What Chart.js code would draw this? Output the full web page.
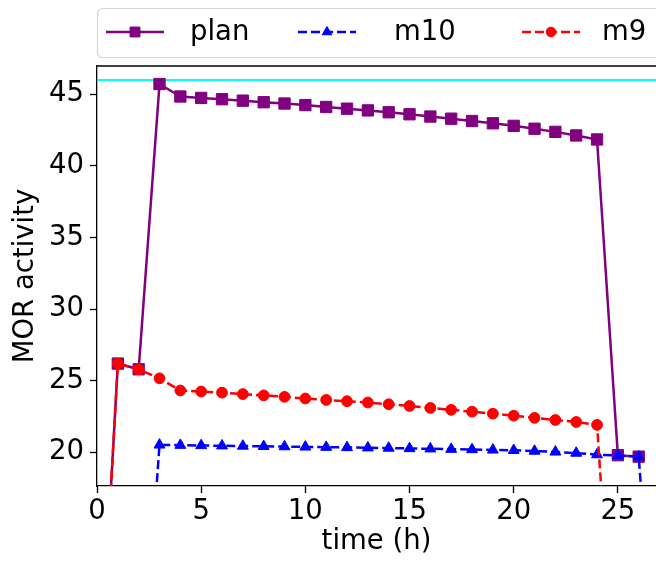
<!DOCTYPE html>
<html>
<head>
<meta charset="utf-8">
<script src="https://cdn.jsdelivr.net/npm/chart.js@4"></script>
<style>
  html, body { margin: 0; padding: 0; background: #fff; overflow: hidden; }
</style>
</head>
<body>
<canvas id="chart" width="656" height="561"></canvas>
<script>
// hours on the x axis
var hours = [0, 1, 2, 3, 4, 5, 6, 7, 8, 9, 10, 11, 12, 13, 14, 15, 16, 17, 18, 19, 20, 21, 22, 23, 24, 25, 26, 27];

var plan = [0, 26.2, 25.8, 45.72, 44.85, 44.75, 44.66, 44.56, 44.45, 44.36, 44.25, 44.12, 44.0, 43.88,
  43.75, 43.61, 43.45, 43.3, 43.14, 42.98, 42.8, 42.6, 42.38, 42.13, 41.85, 19.8, 19.7];
var m10 = [0, 0, 0, 20.52, 20.5, 20.48, 20.46, 20.44, 20.42, 20.4, 20.38, 20.36, 20.34, 20.32,
  20.3, 20.27, 20.25, 20.22, 20.2, 20.17, 20.14, 20.09, 20.03, 19.95, 19.84, 19.78, 19.7, 0];
var m9 = [0, 26.2, 25.8, 25.17, 24.32, 24.25, 24.17, 24.07, 23.98, 23.88, 23.76, 23.66, 23.57, 23.48,
  23.36, 23.24, 23.1, 22.97, 22.84, 22.7, 22.56, 22.41, 22.26, 22.12, 21.92, 0];

var limit = 46;
var xRange = [0, 26.83];
var yRange = [17.65, 46.98];
var xTicks = [0, 5, 10, 15, 20, 25];
var yTicks = [20, 25, 30, 35, 40, 45];

function pts(vals) {
  return vals.map(function (v, i) { return { x: hours[i], y: v }; });
}

var FONT = '"DejaVu Sans", sans-serif';
Chart.defaults.font.family = FONT;
Chart.defaults.font.size = 27.5;
Chart.defaults.color = '#000';

var legendItems = [
  { label: 'plan', color: 'purple', dash: [], marker: 'rect', x: 106, tx: 190 },
  { label: 'm10', color: 'blue', dash: [9, 4], marker: 'triangle', x: 298, tx: 394 },
  { label: 'm9', color: 'red', dash: [9, 4], marker: 'circle', x: 522, tx: 602 }
];

function marker(ctx, type, x, y) {
  Chart.helpers.drawPoint(ctx, {
    pointStyle: type,
    radius: type === 'rect' ? 7 : (type === 'triangle' ? 5.5 : 4.8),
    borderWidth: 1
  }, x, y);
}

var frame = {
  id: 'frame',
  afterDraw: function (chart) {
    var ctx = chart.ctx, a = chart.chartArea;
    ctx.save();
    // top spine
    ctx.strokeStyle = '#000';
    ctx.lineWidth = 1.3;
    ctx.beginPath();
    ctx.moveTo(a.left, a.top);
    ctx.lineTo(a.right + 2, a.top);
    ctx.stroke();

    // legend box
    ctx.strokeStyle = '#d6d6d6';
    ctx.fillStyle = 'rgba(255,255,255,0.8)';
    ctx.lineWidth = 1.2;
    ctx.beginPath();
    ctx.roundRect(97.5, 8.5, 620, 49, 5);
    ctx.fill();
    ctx.stroke();

    var y = 32;
    legendItems.forEach(function (it) {
      var x0 = it.x;
      ctx.strokeStyle = it.color;
      ctx.lineWidth = 2.5;
      ctx.setLineDash(it.dash);
      ctx.beginPath();
      ctx.moveTo(x0, y);
      ctx.lineTo(x0 + 58, y);
      ctx.stroke();
      ctx.setLineDash([]);
      ctx.fillStyle = it.color;
      ctx.strokeStyle = it.color;
      ctx.lineWidth = 1;
      marker(ctx, it.marker, x0 + 29, y);
      ctx.fillStyle = '#000';
      ctx.font = '27.5px ' + FONT;
      ctx.textBaseline = 'middle';
      ctx.textAlign = 'left';
      ctx.fillText(it.label, it.tx, y + 1);
    });
    ctx.restore();
  }
};

function keepTicks(list) {
  return function (scale) {
    scale.ticks = list.map(function (v) { return { value: v }; });
  };
}

new Chart(document.getElementById('chart'), {
  type: 'line',
  data: {
    datasets: [
      {
        label: 'limit',
        data: [{ x: xRange[0], y: limit }, { x: xRange[1] + 1, y: limit }],
        borderColor: '#00ffff',
        borderWidth: 2,
        pointRadius: 0,
        order: 4
      },
      {
        label: 'plan',
        data: pts(plan),
        borderColor: 'purple',
        backgroundColor: 'purple',
        borderWidth: 2.5,
        pointStyle: 'rect',
        pointRadius: 8,
        pointBorderWidth: 1,
        order: 3
      },
      {
        label: 'm10',
        data: pts(m10),
        borderColor: 'blue',
        backgroundColor: 'blue',
        borderWidth: 2.5,
        borderDash: [9, 4],
        pointStyle: 'triangle',
        pointRadius: 6.3,
        pointBorderWidth: 1,
        order: 2
      },
      {
        label: 'm9',
        data: pts(m9),
        borderColor: 'red',
        backgroundColor: 'red',
        borderWidth: 2.5,
        borderDash: [9, 4],
        pointStyle: 'circle',
        pointRadius: 5.4,
        pointBorderWidth: 1,
        order: 1
      }
    ]
  },
  options: {
    responsive: false,
    animation: false,
    layout: { autoPadding: false, padding: { top: 66, right: 0, left: 0, bottom: 0 } },
    plugins: {
      legend: { display: false },
      tooltip: { enabled: false }
    },
    scales: {
      x: {
        type: 'linear',
        min: xRange[0],
        max: xRange[1],
        afterBuildTicks: keepTicks(xTicks),
        afterFit: function (s) { s.height = 75; s.paddingLeft = 0; s.paddingRight = 0; },
        ticks: { padding: 2, maxRotation: 0, autoSkip: false, font: { size: 27.5 } },
        grid: { drawOnChartArea: false, tickLength: 7, tickColor: '#000', tickWidth: 1.3 },
        border: { color: '#000', width: 1.3 },
        title: { display: true, text: 'time (h)', font: { size: 27.5 }, padding: { top: 0, bottom: 3 } }
      },
      y: {
        min: yRange[0],
        max: yRange[1],
        afterBuildTicks: keepTicks(yTicks),
        afterFit: function (s) { s.width = 97; s.paddingTop = 0; s.paddingBottom = 0; },
        ticks: { padding: 6, autoSkip: false, font: { size: 27.5 } },
        grid: { drawOnChartArea: false, tickLength: 7, tickColor: '#000', tickWidth: 1.3 },
        border: { color: '#000', width: 1.3 },
        title: { display: true, text: 'MOR activity', font: { size: 27.5 }, padding: { top: 9, bottom: 0 } }
      }
    }
  },
  plugins: [frame]
});
</script>
</body>
</html>
